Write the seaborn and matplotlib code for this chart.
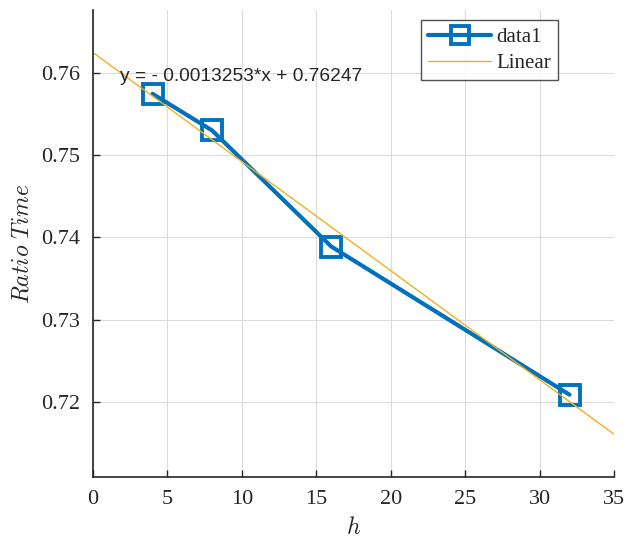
import matplotlib
matplotlib.use("Agg")
import matplotlib.pyplot as plt
import seaborn as sns
import numpy as np
import pandas as pd

# data
h_values = [4, 8, 16, 32]
ratio_time = [0.75745, 0.7530, 0.7389, 0.7209]
fit_slope = -0.0013253
fit_intercept = 0.76247
fit_x = [0, 35]

sns.set_style("ticks")
plt.rcParams['font.family'] = ['Liberation Serif', 'DejaVu Serif']
plt.rcParams['mathtext.fontset'] = 'cm'

fig = plt.figure(figsize=(6.28, 5.39), dpi=100)
ax = fig.add_axes([0.148, 0.115, 0.83, 0.866])

df = pd.DataFrame({"h": h_values, "ratio": ratio_time})
fit_df = pd.DataFrame({"h": fit_x, "ratio": [fit_slope * x + fit_intercept for x in fit_x]})

blue = "#0072BD"
yellow = "#EDB120"

sns.lineplot(data=df, x="h", y="ratio", ax=ax, color=blue, linewidth=3,
             marker="s", markersize=15, markerfacecolor="none",
             markeredgecolor=blue, markeredgewidth=2.8, label="data1")
sns.lineplot(data=fit_df, x="h", y="ratio", ax=ax, color=yellow, linewidth=1.0,
             label="Linear")

ax.text(1.8, 0.7595, "y = - 0.0013253*x + 0.76247", fontsize=13.8,
        family="Liberation Sans", va="center", ha="left")

ax.set_xlim(0, 35)
ax.set_ylim(0.7109, 0.7676)
ax.set_xticks(range(0, 36, 5))
ax.set_yticks([0.72, 0.73, 0.74, 0.75, 0.76])
ax.set_yticklabels(["0.72", "0.73", "0.74", "0.75", "0.76"])
ax.grid(True, color="#dcdcdc", linewidth=0.8)
ax.set_axisbelow(True)
sns.despine(ax=ax)
for s in ["left", "bottom"]:
    ax.spines[s].set_linewidth(1.2)
    ax.spines[s].set_color("#262626")
ax.tick_params(direction="in", length=5, width=1, labelsize=16, pad=9, colors="#262626")

ax.set_xlabel(r"$h$", fontsize=17, labelpad=6)
ax.set_ylabel(r"$Ratio\ Time$", fontsize=17, labelpad=6)

leg = ax.legend(loc="upper right", bbox_to_anchor=(0.8925, 0.9786), fontsize=15,
                frameon=True, fancybox=False, edgecolor="#262626",
                handlelength=3.0, borderpad=0.35, labelspacing=0.3,
                handletextpad=0.25, borderaxespad=0, markerscale=0.85)
leg.get_frame().set_linewidth(1.0)

fig.savefig("out.png", dpi=100)
